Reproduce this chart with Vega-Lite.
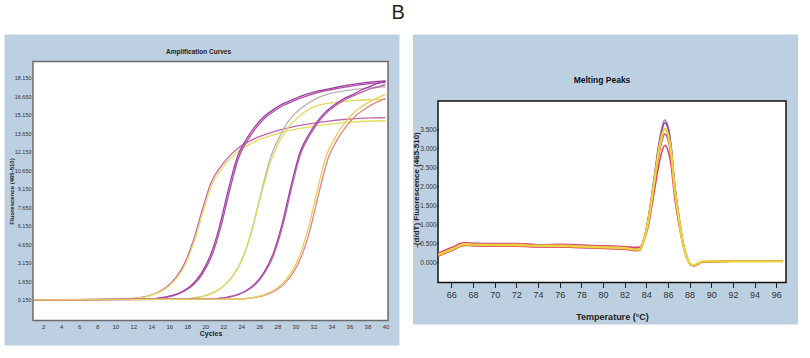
{
"$schema": "https://vega.github.io/schema/vega-lite/v6.json",
"background": "white",
"padding": {"left": 4, "top": 2.5, "right": 4, "bottom": 4},
"title": {"text": "B", "fontSize": 20, "font": "Liberation Sans", "fontWeight": "normal", "color": "#222", "anchor": "middle", "offset": 11, "dx": -3},
"config": {
  "view": {"stroke": null},
  "axis": {"grid": false, "labelOverlap": false, "labelFont": "Liberation Sans", "titleFont": "Liberation Sans", "labelColor": "#333", "titleColor": "#222"}
},
"resolve": {"scale": {"color": "independent"}},
"spacing": 12,
"datasets": {
"amp": [
{"s":"A1","x":1,"y":0.15},{"s":"A1","x":10.7,"y":0.19},{"s":"A1","x":11.7,"y":0.24},{"s":"A1","x":12.7,"y":0.33},{"s":"A1","x":13.7,"y":0.47},{"s":"A1","x":14.7,"y":0.74},{"s":"A1","x":15.7,"y":1.18},{"s":"A1","x":16.7,"y":1.92},{"s":"A1","x":17.7,"y":3.10},{"s":"A1","x":18.7,"y":5.02},{"s":"A1","x":19.7,"y":7.53},{"s":"A1","x":20.7,"y":9.74},{"s":"A1","x":21.7,"y":10.92},{"s":"A1","x":22.7,"y":11.80},{"s":"A1","x":23.7,"y":12.47},{"s":"A1","x":24.7,"y":12.91},{"s":"A1","x":25.7,"y":13.28},{"s":"A1","x":26.7,"y":13.54},{"s":"A1","x":27.7,"y":13.79},{"s":"A1","x":29.7,"y":14.16},{"s":"A1","x":31.7,"y":14.41},{"s":"A1","x":33.7,"y":14.62},{"s":"A1","x":35.7,"y":14.77},{"s":"A1","x":38.7,"y":14.88},{"s":"A1","x":40,"y":14.9},
{"s":"A2","x":1,"y":0.15},{"s":"A2","x":10.8,"y":0.19},{"s":"A2","x":11.8,"y":0.24},{"s":"A2","x":12.8,"y":0.32},{"s":"A2","x":13.8,"y":0.47},{"s":"A2","x":14.8,"y":0.73},{"s":"A2","x":15.8,"y":1.17},{"s":"A2","x":16.8,"y":1.89},{"s":"A2","x":17.8,"y":3.05},{"s":"A2","x":18.8,"y":4.94},{"s":"A2","x":19.8,"y":7.40},{"s":"A2","x":20.8,"y":9.58},{"s":"A2","x":21.8,"y":10.74},{"s":"A2","x":22.8,"y":11.61},{"s":"A2","x":23.8,"y":12.26},{"s":"A2","x":24.8,"y":12.69},{"s":"A2","x":25.8,"y":13.06},{"s":"A2","x":26.8,"y":13.32},{"s":"A2","x":27.8,"y":13.56},{"s":"A2","x":29.8,"y":13.93},{"s":"A2","x":31.8,"y":14.17},{"s":"A2","x":33.8,"y":14.37},{"s":"A2","x":35.8,"y":14.52},{"s":"A2","x":38.8,"y":14.63},{"s":"A2","x":40,"y":14.65},
{"s":"B1","x":1,"y":0.15},{"s":"B1","x":13.55,"y":0.20},{"s":"B1","x":14.55,"y":0.26},{"s":"B1","x":15.55,"y":0.36},{"s":"B1","x":16.55,"y":0.54},{"s":"B1","x":17.55,"y":0.86},{"s":"B1","x":18.55,"y":1.40},{"s":"B1","x":19.55,"y":2.29},{"s":"B1","x":20.55,"y":3.71},{"s":"B1","x":21.55,"y":6.02},{"s":"B1","x":22.55,"y":9.05},{"s":"B1","x":23.55,"y":11.72},{"s":"B1","x":24.55,"y":13.14},{"s":"B1","x":25.55,"y":14.21},{"s":"B1","x":26.55,"y":15.01},{"s":"B1","x":27.55,"y":15.55},{"s":"B1","x":28.55,"y":15.99},{"s":"B1","x":29.55,"y":16.31},{"s":"B1","x":30.55,"y":16.62},{"s":"B1","x":32.55,"y":17.06},{"s":"B1","x":34.55,"y":17.36},{"s":"B1","x":36.55,"y":17.61},{"s":"B1","x":38.55,"y":17.79},{"s":"B1","x":40,"y":17.87},
{"s":"B2","x":1,"y":0.15},{"s":"B2","x":13.7,"y":0.20},{"s":"B2","x":14.7,"y":0.26},{"s":"B2","x":15.7,"y":0.36},{"s":"B2","x":16.7,"y":0.54},{"s":"B2","x":17.7,"y":0.86},{"s":"B2","x":18.7,"y":1.39},{"s":"B2","x":19.7,"y":2.27},{"s":"B2","x":20.7,"y":3.69},{"s":"B2","x":21.7,"y":5.99},{"s":"B2","x":22.7,"y":9.00},{"s":"B2","x":23.7,"y":11.66},{"s":"B2","x":24.7,"y":13.07},{"s":"B2","x":25.7,"y":14.13},{"s":"B2","x":26.7,"y":14.93},{"s":"B2","x":27.7,"y":15.46},{"s":"B2","x":28.7,"y":15.90},{"s":"B2","x":29.7,"y":16.22},{"s":"B2","x":30.7,"y":16.52},{"s":"B2","x":32.7,"y":16.97},{"s":"B2","x":34.7,"y":17.27},{"s":"B2","x":36.7,"y":17.51},{"s":"B2","x":38.7,"y":17.69},{"s":"B2","x":40,"y":17.76},
{"s":"C1","x":1,"y":0.15},{"s":"C1","x":17.2,"y":0.20},{"s":"C1","x":18.2,"y":0.25},{"s":"C1","x":19.2,"y":0.36},{"s":"C1","x":20.2,"y":0.53},{"s":"C1","x":21.2,"y":0.84},{"s":"C1","x":22.2,"y":1.36},{"s":"C1","x":23.2,"y":2.23},{"s":"C1","x":24.2,"y":3.62},{"s":"C1","x":25.2,"y":5.88},{"s":"C1","x":26.2,"y":8.83},{"s":"C1","x":27.2,"y":11.6},{"s":"C1","x":28.2,"y":13.3},{"s":"C1","x":29.2,"y":14.6},{"s":"C1","x":30.2,"y":15.4},{"s":"C1","x":31.2,"y":15.95},{"s":"C1","x":32.2,"y":16.4},{"s":"C1","x":33.2,"y":16.7},{"s":"C1","x":34.2,"y":16.9},{"s":"C1","x":36.2,"y":17.15},{"s":"C1","x":38.2,"y":17.3},{"s":"C1","x":40,"y":17.4},
{"s":"C2","x":1,"y":0.15},{"s":"C2","x":17.1,"y":0.20},{"s":"C2","x":18.1,"y":0.25},{"s":"C2","x":19.1,"y":0.35},{"s":"C2","x":20.1,"y":0.51},{"s":"C2","x":21.1,"y":0.81},{"s":"C2","x":22.1,"y":1.30},{"s":"C2","x":23.1,"y":2.12},{"s":"C2","x":24.1,"y":3.44},{"s":"C2","x":25.1,"y":5.58},{"s":"C2","x":26.1,"y":8.38},{"s":"C2","x":27.1,"y":11.0},{"s":"C2","x":28.1,"y":12.8},{"s":"C2","x":29.1,"y":14.0},{"s":"C2","x":30.1,"y":14.8},{"s":"C2","x":31.1,"y":15.4},{"s":"C2","x":32.1,"y":15.8},{"s":"C2","x":33.1,"y":16.0},{"s":"C2","x":34.1,"y":16.1},{"s":"C2","x":36.1,"y":16.25},{"s":"C2","x":38.1,"y":16.35},{"s":"C2","x":40,"y":16.4},
{"s":"D1","x":1,"y":0.15},{"s":"D1","x":20.5,"y":0.21},{"s":"D1","x":21.5,"y":0.26},{"s":"D1","x":22.5,"y":0.37},{"s":"D1","x":23.5,"y":0.55},{"s":"D1","x":24.5,"y":0.88},{"s":"D1","x":25.5,"y":1.43},{"s":"D1","x":26.5,"y":2.35},{"s":"D1","x":27.5,"y":3.82},{"s":"D1","x":28.5,"y":6.21},{"s":"D1","x":29.5,"y":9.33},{"s":"D1","x":30.5,"y":12.08},{"s":"D1","x":31.5,"y":13.55},{"s":"D1","x":32.5,"y":14.65},{"s":"D1","x":33.5,"y":15.47},{"s":"D1","x":34.5,"y":16.02},{"s":"D1","x":35.5,"y":16.48},{"s":"D1","x":36.5,"y":16.81},{"s":"D1","x":37.5,"y":17.2},{"s":"D1","x":38.5,"y":17.5},{"s":"D1","x":39.5,"y":17.75},{"s":"D1","x":40,"y":17.85},
{"s":"D2","x":1,"y":0.15},{"s":"D2","x":20.6,"y":0.20},{"s":"D2","x":21.6,"y":0.26},{"s":"D2","x":22.6,"y":0.37},{"s":"D2","x":23.6,"y":0.55},{"s":"D2","x":24.6,"y":0.88},{"s":"D2","x":25.6,"y":1.43},{"s":"D2","x":26.6,"y":2.34},{"s":"D2","x":27.6,"y":3.80},{"s":"D2","x":28.6,"y":6.17},{"s":"D2","x":29.6,"y":9.28},{"s":"D2","x":30.6,"y":12.01},{"s":"D2","x":31.6,"y":13.47},{"s":"D2","x":32.6,"y":14.57},{"s":"D2","x":33.6,"y":15.39},{"s":"D2","x":34.6,"y":15.94},{"s":"D2","x":35.6,"y":16.39},{"s":"D2","x":36.6,"y":16.72},{"s":"D2","x":37.6,"y":17.03},{"s":"D2","x":38.6,"y":17.3},{"s":"D2","x":39.6,"y":17.5},{"s":"D2","x":40,"y":17.6},
{"s":"E1","x":1,"y":0.15},{"s":"E1","x":23.7,"y":0.20},{"s":"E1","x":24.7,"y":0.26},{"s":"E1","x":25.7,"y":0.36},{"s":"E1","x":26.7,"y":0.54},{"s":"E1","x":27.7,"y":0.86},{"s":"E1","x":28.7,"y":1.40},{"s":"E1","x":29.7,"y":2.29},{"s":"E1","x":30.7,"y":3.72},{"s":"E1","x":31.7,"y":6.04},{"s":"E1","x":32.7,"y":9.08},{"s":"E1","x":33.7,"y":11.75},{"s":"E1","x":34.7,"y":13.18},{"s":"E1","x":35.7,"y":14.25},{"s":"E1","x":36.7,"y":15.06},{"s":"E1","x":37.7,"y":15.59},{"s":"E1","x":38.7,"y":16.04},{"s":"E1","x":39.7,"y":16.36},{"s":"E1","x":40,"y":16.45},
{"s":"E2","x":1,"y":0.15},{"s":"E2","x":23.5,"y":0.20},{"s":"E2","x":24.5,"y":0.26},{"s":"E2","x":25.5,"y":0.37},{"s":"E2","x":26.5,"y":0.55},{"s":"E2","x":27.5,"y":0.88},{"s":"E2","x":28.5,"y":1.42},{"s":"E2","x":29.5,"y":2.33},{"s":"E2","x":30.5,"y":3.78},{"s":"E2","x":31.5,"y":6.14},{"s":"E2","x":32.5,"y":9.23},{"s":"E2","x":33.5,"y":11.95},{"s":"E2","x":34.5,"y":13.40},{"s":"E2","x":35.5,"y":14.49},{"s":"E2","x":36.5,"y":15.31},{"s":"E2","x":37.5,"y":15.85},{"s":"E2","x":38.5,"y":16.30},{"s":"E2","x":39.5,"y":16.63},{"s":"E2","x":40,"y":16.78}
],
"melt": [
{"s":"R1","x":64.8,"y":0.23},{"s":"R1","x":65.3,"y":0.29},{"s":"R1","x":65.8,"y":0.35},{"s":"R1","x":66.3,"y":0.41},{"s":"R1","x":66.8,"y":0.48},{"s":"R1","x":67.3,"y":0.51},{"s":"R1","x":68,"y":0.50},{"s":"R1","x":70,"y":0.49},{"s":"R1","x":72,"y":0.49},{"s":"R1","x":74,"y":0.47},{"s":"R1","x":76,"y":0.47},{"s":"R1","x":78,"y":0.45},{"s":"R1","x":80,"y":0.43},{"s":"R1","x":82,"y":0.41},{"s":"R1","x":83.0,"y":0.37},{"s":"R1","x":83.4,"y":0.38},{"s":"R1","x":83.8,"y":0.64},{"s":"R1","x":84.2,"y":1.20},{"s":"R1","x":84.5,"y":1.77},{"s":"R1","x":84.8,"y":2.40},{"s":"R1","x":85.1,"y":3.02},{"s":"R1","x":85.4,"y":3.49},{"s":"R1","x":85.7,"y":3.75},{"s":"R1","x":86.0,"y":3.59},{"s":"R1","x":86.3,"y":3.07},{"s":"R1","x":86.6,"y":2.14},{"s":"R1","x":87.0,"y":1.25},{"s":"R1","x":87.4,"y":0.52},{"s":"R1","x":87.8,"y":0.11},{"s":"R1","x":88.1,"y":-0.06},{"s":"R1","x":88.4,"y":-0.08},{"s":"R1","x":88.8,"y":-0.03},{"s":"R1","x":89.2,"y":0.02},{"s":"R1","x":92,"y":0.03},{"s":"R1","x":96.6,"y":0.03},
{"s":"R2","x":64.8,"y":0.18},{"s":"R2","x":65.3,"y":0.24},{"s":"R2","x":65.8,"y":0.30},{"s":"R2","x":66.3,"y":0.36},{"s":"R2","x":66.8,"y":0.43},{"s":"R2","x":67.3,"y":0.46},{"s":"R2","x":68,"y":0.45},{"s":"R2","x":70,"y":0.44},{"s":"R2","x":72,"y":0.44},{"s":"R2","x":74,"y":0.42},{"s":"R2","x":76,"y":0.42},{"s":"R2","x":78,"y":0.40},{"s":"R2","x":80,"y":0.38},{"s":"R2","x":82,"y":0.36},{"s":"R2","x":83.0,"y":0.32},{"s":"R2","x":83.4,"y":0.33},{"s":"R2","x":83.8,"y":0.63},{"s":"R2","x":84.2,"y":1.18},{"s":"R2","x":84.5,"y":1.74},{"s":"R2","x":84.8,"y":2.35},{"s":"R2","x":85.1,"y":2.96},{"s":"R2","x":85.4,"y":3.42},{"s":"R2","x":85.7,"y":3.68},{"s":"R2","x":86.0,"y":3.53},{"s":"R2","x":86.3,"y":3.01},{"s":"R2","x":86.6,"y":2.10},{"s":"R2","x":87.0,"y":1.23},{"s":"R2","x":87.4,"y":0.51},{"s":"R2","x":87.8,"y":0.10},{"s":"R2","x":88.1,"y":-0.07},{"s":"R2","x":88.4,"y":-0.09},{"s":"R2","x":88.8,"y":-0.04},{"s":"R2","x":89.2,"y":0.02},{"s":"R2","x":92,"y":0.03},{"s":"R2","x":96.6,"y":0.03},
{"s":"R4","x":64.8,"y":0.25},{"s":"R4","x":65.3,"y":0.31},{"s":"R4","x":65.8,"y":0.37},{"s":"R4","x":66.3,"y":0.43},{"s":"R4","x":66.8,"y":0.50},{"s":"R4","x":67.3,"y":0.52},{"s":"R4","x":68,"y":0.51},{"s":"R4","x":70,"y":0.50},{"s":"R4","x":72,"y":0.50},{"s":"R4","x":74,"y":0.47},{"s":"R4","x":76,"y":0.48},{"s":"R4","x":78,"y":0.46},{"s":"R4","x":80,"y":0.44},{"s":"R4","x":82,"y":0.42},{"s":"R4","x":83.0,"y":0.40},{"s":"R4","x":83.4,"y":0.41},{"s":"R4","x":83.8,"y":0.62},{"s":"R4","x":84.2,"y":1.08},{"s":"R4","x":84.5,"y":1.60},{"s":"R4","x":84.8,"y":2.16},{"s":"R4","x":85.1,"y":2.72},{"s":"R4","x":85.4,"y":3.15},{"s":"R4","x":85.7,"y":3.38},{"s":"R4","x":86.0,"y":3.24},{"s":"R4","x":86.3,"y":2.77},{"s":"R4","x":86.6,"y":1.92},{"s":"R4","x":87.0,"y":1.13},{"s":"R4","x":87.4,"y":0.48},{"s":"R4","x":87.8,"y":0.09},{"s":"R4","x":88.1,"y":-0.06},{"s":"R4","x":88.4,"y":-0.08},{"s":"R4","x":88.8,"y":-0.03},{"s":"R4","x":89.2,"y":0.02},{"s":"R4","x":92,"y":0.03},{"s":"R4","x":96.6,"y":0.03},
{"s":"R5","x":64.8,"y":0.17},{"s":"R5","x":65.3,"y":0.23},{"s":"R5","x":65.8,"y":0.29},{"s":"R5","x":66.3,"y":0.35},{"s":"R5","x":66.8,"y":0.42},{"s":"R5","x":67.3,"y":0.45},{"s":"R5","x":68,"y":0.44},{"s":"R5","x":70,"y":0.43},{"s":"R5","x":72,"y":0.43},{"s":"R5","x":74,"y":0.41},{"s":"R5","x":76,"y":0.41},{"s":"R5","x":78,"y":0.39},{"s":"R5","x":80,"y":0.37},{"s":"R5","x":82,"y":0.35},{"s":"R5","x":83.0,"y":0.31},{"s":"R5","x":83.4,"y":0.32},{"s":"R5","x":83.8,"y":0.58},{"s":"R5","x":84.2,"y":0.98},{"s":"R5","x":84.5,"y":1.46},{"s":"R5","x":84.8,"y":1.97},{"s":"R5","x":85.1,"y":2.48},{"s":"R5","x":85.4,"y":2.87},{"s":"R5","x":85.7,"y":3.08},{"s":"R5","x":86.0,"y":2.95},{"s":"R5","x":86.3,"y":2.53},{"s":"R5","x":86.6,"y":1.75},{"s":"R5","x":87.0,"y":1.03},{"s":"R5","x":87.4,"y":0.45},{"s":"R5","x":87.8,"y":0.08},{"s":"R5","x":88.1,"y":-0.06},{"s":"R5","x":88.4,"y":-0.08},{"s":"R5","x":88.8,"y":-0.03},{"s":"R5","x":89.2,"y":0.02},{"s":"R5","x":92,"y":0.03},{"s":"R5","x":96.6,"y":0.03},
{"s":"R3","x":64.8,"y":0.20},{"s":"R3","x":65.3,"y":0.26},{"s":"R3","x":65.8,"y":0.32},{"s":"R3","x":66.3,"y":0.38},{"s":"R3","x":66.8,"y":0.45},{"s":"R3","x":67.3,"y":0.48},{"s":"R3","x":68,"y":0.47},{"s":"R3","x":70,"y":0.46},{"s":"R3","x":72,"y":0.46},{"s":"R3","x":74,"y":0.44},{"s":"R3","x":76,"y":0.44},{"s":"R3","x":78,"y":0.42},{"s":"R3","x":80,"y":0.40},{"s":"R3","x":82,"y":0.38},{"s":"R3","x":83.0,"y":0.34},{"s":"R3","x":83.4,"y":0.35},{"s":"R3","x":83.8,"y":0.61},{"s":"R3","x":84.2,"y":1.12},{"s":"R3","x":84.5,"y":1.66},{"s":"R3","x":84.8,"y":2.25},{"s":"R3","x":85.1,"y":2.84},{"s":"R3","x":85.4,"y":3.28},{"s":"R3","x":85.7,"y":3.52},{"s":"R3","x":86.0,"y":3.37},{"s":"R3","x":86.3,"y":2.89},{"s":"R3","x":86.6,"y":2.00},{"s":"R3","x":87.0,"y":1.17},{"s":"R3","x":87.4,"y":0.49},{"s":"R3","x":87.8,"y":0.10},{"s":"R3","x":88.1,"y":-0.05},{"s":"R3","x":88.4,"y":-0.07},{"s":"R3","x":88.8,"y":-0.02},{"s":"R3","x":89.2,"y":0.03},{"s":"R3","x":92,"y":0.03},{"s":"R3","x":96.6,"y":0.03}
]
},
"hconcat": [
{
  "width": 355, "height": 259,
  "title": {"text": "Amplification Curves", "frame": "group", "fontSize": 6.5, "fontWeight": "bold", "font": "Liberation Sans", "color": "#222", "anchor": "middle", "dx": -12, "offset": -20.5},
  "layer": [
    {"data": {"values": [{}]}, "mark": {"type": "rect", "color": "#bdd0e1"},
     "encoding": {
       "x": {"datum": -2.294, "type": "quantitative", "scale": {"domain": [0.87, 40.28], "nice": false, "zero": false}},
       "x2": {"datum": 41.557},
       "y": {"datum": 21.632, "type": "quantitative", "scale": {"domain": [-1.526, 19.446], "nice": false, "zero": false}},
       "y2": {"datum": -3.55}}},
    {"data": {"values": [{}]}, "mark": {"type": "rect", "fill": "white", "stroke": "#6a6a6a", "strokeWidth": 1.5},
     "encoding": {
       "x": {"datum": 0.87, "type": "quantitative", "scale": {"domain": [0.87, 40.28], "nice": false, "zero": false}},
       "x2": {"datum": 40.28},
       "y": {"datum": 19.446, "type": "quantitative", "scale": {"domain": [-1.526, 19.446], "nice": false, "zero": false}},
       "y2": {"datum": -1.526}}},
    {"data": {"name": "amp"}, "mark": {"type": "line", "interpolate": "monotone", "strokeWidth": 1.3},
     "encoding": {
       "x": {"field": "x", "type": "quantitative", "scale": {"domain": [0.87, 40.28], "nice": false, "zero": false},
             "axis": {"zindex": 1, "labelOverlap": false, "tickCount": 100, "format": "d", "title": "Cycles", "values": [2,4,6,8,10,12,14,16,18,20,22,24,26,28,30,32,34,36,38,40], "domain": false, "ticks": false, "labelFontSize": 6, "labelPadding": 3, "titleFontSize": 7, "titleFontWeight": "bold", "titlePadding": 0}},
       "y": {"field": "y", "type": "quantitative", "scale": {"domain": [-1.526, 19.446], "nice": false, "zero": false},
             "axis": {"zindex": 1, "labelOverlap": false, "tickCount": 100, "title": "Fluorescence (465-510)", "values": [0.15,1.65,3.15,4.65,6.15,7.65,9.15,10.65,12.15,13.65,15.15,16.65,18.15], "format": ".3f", "domain": false, "ticks": false, "labelFontSize": 5.5, "labelPadding": 2, "titleFontSize": 6, "titleFontWeight": "bold", "titlePadding": 0}},
       "color": {"field": "s", "type": "nominal", "legend": null,
                 "scale": {"domain": ["A1","A2","B1","B2","C1","C2","D1","D2","E1","E2"],
                           "range": ["#c264b0","#e6dc5a","#9a3f9e","#b14aa6","#b8b4b8","#e2d85a","#9a3f9e","#b85cb0","#e8837c","#e3d060"]}}}}
  ]
},
{
  "width": 348, "height": 221,
  "title": {"text": "Melting Peaks", "frame": "group", "fontSize": 8.5, "fontWeight": "bold", "font": "Liberation Sans", "color": "#111", "anchor": "middle", "dx": -10, "offset": -50},
  "layer": [
    {"data": {"values": [{}]}, "mark": {"type": "rect", "color": "#bdd0e1"},
     "encoding": {
       "x": {"datum": 62.46, "type": "quantitative", "scale": {"domain": [64.77, 96.9], "nice": false, "zero": false}},
       "x2": {"datum": 98.01},
       "y": {"datum": 6.0, "type": "quantitative", "scale": {"domain": [-0.526, 5.289], "nice": false, "zero": false}},
       "y2": {"datum": -1.631}}},
    {"data": {"values": [{}]}, "mark": {"type": "rect", "fill": "white", "stroke": "#111", "strokeWidth": 1.5},
     "encoding": {
       "x": {"datum": 64.77, "type": "quantitative", "scale": {"domain": [64.77, 96.9], "nice": false, "zero": false}},
       "x2": {"datum": 96.9},
       "y": {"datum": 4.25, "type": "quantitative", "scale": {"domain": [-0.526, 5.289], "nice": false, "zero": false}},
       "y2": {"datum": -0.526}}},
    {"data": {"name": "melt"}, "transform": [{"filter": {"field": "s", "oneOf": ["R1","R2","R4","R5"]}}],
     "mark": {"type": "line", "interpolate": "monotone", "strokeWidth": 1.5},
     "encoding": {
       "x": {"field": "x", "type": "quantitative", "scale": {"domain": [64.77, 96.9], "nice": false, "zero": false},
             "axis": {"zindex": 1, "labelOverlap": false, "tickCount": 100, "format": "d", "title": "Temperature (°C)", "values": [66,68,70,72,74,76,78,80,82,84,86,88,90,92,94,96], "domain": false, "ticks": true, "tickSize": 5, "tickColor": "#222", "labelFontSize": 9, "labelPadding": 3, "titleFontSize": 9, "titlePadding": 13}},
       "y": {"field": "y", "type": "quantitative", "scale": {"domain": [-0.526, 5.289], "nice": false, "zero": false},
             "axis": {"zindex": 1, "labelOverlap": false, "tickCount": 100, "title": "-(d/dT) Fluorescence (465-510)", "values": [0,0.5,1,1.5,2,2.5,3,3.5], "format": ".3f", "domain": false, "ticks": true, "tickSize": 2, "tickColor": "#222", "labelFontSize": 6.5, "labelPadding": 0, "titleFontSize": 8, "titleFontWeight": "bold", "titlePadding": -1, "titleY": 128}},
       "color": {"field": "s", "type": "nominal", "legend": null,
                 "scale": {"domain": ["R1","R2","R4","R5","R3"],
                           "range": ["#9280a8","#9b3fa6","#d8447e","#e0405e","#ead43a"]}}}},
    {"data": {"name": "melt"}, "transform": [{"filter": {"field": "s", "equal": "R3"}}],
     "mark": {"type": "line", "interpolate": "monotone", "strokeWidth": 2.4},
     "encoding": {
       "x": {"field": "x", "type": "quantitative", "scale": {"domain": [64.77, 96.9], "nice": false, "zero": false}},
       "y": {"field": "y", "type": "quantitative", "scale": {"domain": [-0.526, 5.289], "nice": false, "zero": false}},
       "color": {"field": "s", "type": "nominal", "legend": null,
                 "scale": {"domain": ["R1","R2","R4","R5","R3"],
                           "range": ["#9280a8","#9b3fa6","#d8447e","#e0405e","#ead43a"]}}}}
  ]
}
]
}
